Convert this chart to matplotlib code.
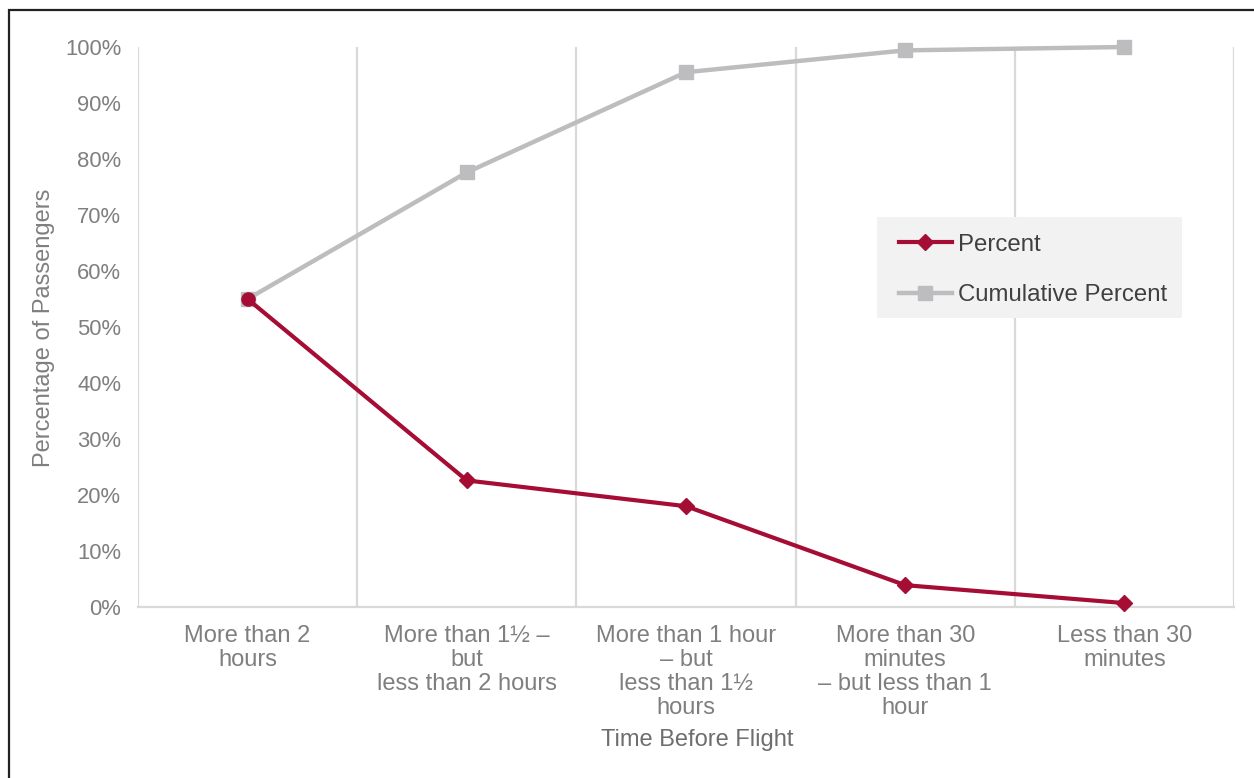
import matplotlib
matplotlib.use("Agg")
import matplotlib.pyplot as plt
from matplotlib.patches import Rectangle
from matplotlib.lines import Line2D
from matplotlib.ticker import PercentFormatter

# Data
categories = [
    "More than 2\nhours",
    "More than 1½ –\nbut\nless than 2 hours",
    "More than 1 hour\n– but\nless than 1½\nhours",
    "More than 30\nminutes\n– but less than 1\nhour",
    "Less than 30\nminutes",
]
percent = [55.0, 22.6, 18.0, 3.9, 0.7]
cumulative_percent = [55.0, 77.6, 95.5, 99.4, 100.0]
y_ticks = [0, 10, 20, 30, 40, 50, 60, 70, 80, 90, 100]

RED = "#A50D35"
GRAY = "#BDBDBF"
GRID = "#D9D9D9"
TICK_COLOR = "#7F7F7F"

plt.rcParams["font.family"] = ["Liberation Sans", "DejaVu Sans"]

W, H = 1254, 778
fig = plt.figure(figsize=(W / 100, H / 100), dpi=100)
ax = fig.add_axes([138 / W, 1 - 607 / H, (1234 - 138) / W, (607 - 47) / H])

x = list(range(len(categories)))

ax.plot(x, cumulative_percent, color=GRAY, lw=3.2, marker="s", markersize=10.5,
        markerfacecolor=GRAY, markeredgecolor=GRAY, zorder=3, clip_on=False,
        label="Cumulative Percent")
ax.plot(x, percent, color=RED, lw=3.0, marker="D", markersize=8.5, markevery=[1, 2, 3, 4],
        markerfacecolor=RED, markeredgecolor=RED, zorder=4, clip_on=False, label="Percent")
ax.plot(x[:1], percent[:1], linestyle="none", marker="o", markersize=9.5,
        markerfacecolor=RED, markeredgecolor=RED, zorder=5, clip_on=False)

ax.set_xlim(-0.5, len(categories) - 0.5)
ax.set_ylim(0, 100)
ax.set_yticks(y_ticks)
ax.yaxis.set_major_formatter(PercentFormatter(decimals=0))
ax.set_xticks(x)
ax.set_xticklabels(categories, fontsize=17, color=TICK_COLOR, linespacing=1.12)
ax.set_xticks([i - 0.5 for i in range(len(categories) + 1)], minor=True)
ax.grid(True, which="minor", axis="x", color=GRID, lw=1.6)
ax.grid(False, which="major")
ax.tick_params(axis="x", which="both", length=0, pad=13)
ax.tick_params(axis="y", length=0, pad=12, labelsize=15.8, labelcolor=TICK_COLOR)

for side in ("top", "right", "left"):
    ax.spines[side].set_visible(False)
ax.spines["bottom"].set_color(GRID)
ax.spines["bottom"].set_linewidth(1.6)

fig.text(44 / W, 1 - 327.5 / H, "Percentage of Passengers", rotation=90,
         ha="center", va="center", fontsize=17, color=TICK_COLOR)
fig.text(697.5 / W, 1 - 740 / H, "Time Before Flight",
         ha="center", va="center", fontsize=17, color="#6E6E6E")

# Legend box
fig.add_artist(Rectangle((877 / W, 1 - 318 / H), (1182 - 877) / W, (318 - 217) / H,
                         transform=fig.transFigure, facecolor="#F2F2F2",
                         edgecolor="none", zorder=5))
handles = [
    Line2D([], [], color=RED, lw=3.0, marker="D", markersize=8.5,
           markerfacecolor=RED, markeredgecolor=RED),
    Line2D([], [], color=GRAY, lw=3.2, marker="s", markersize=10.5,
           markerfacecolor=GRAY, markeredgecolor=GRAY),
]
leg = fig.legend(handles, ["Percent", "Cumulative Percent"], loc="center left",
                 bbox_to_anchor=(899 / W, 1 - 270 / H), bbox_transform=fig.transFigure,
                 frameon=False, fontsize=17.3, handlelength=2.2, handletextpad=0.25,
                 labelspacing=1.2, borderpad=0, borderaxespad=0)
leg.set_zorder(6)
for t in leg.get_texts():
    t.set_color("#404040")

# Outer border
fig.add_artist(Rectangle((8.5 / W, -0.1), 1.2, 1 - 10 / H + 0.1,
                         transform=fig.transFigure, facecolor="none",
                         edgecolor="#222222", lw=1.6, zorder=10))

fig.savefig("out.png", dpi=100)
